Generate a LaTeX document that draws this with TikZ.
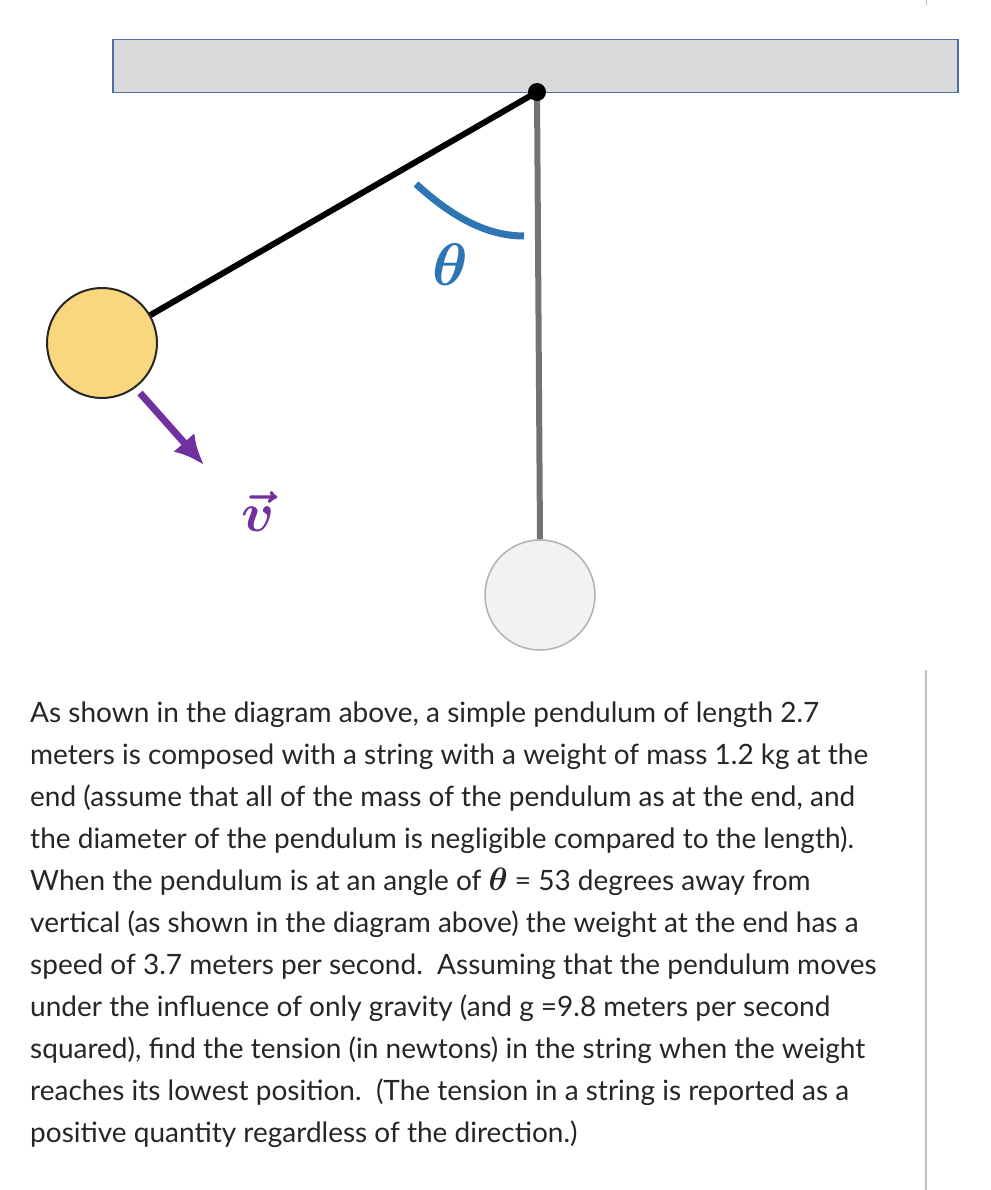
\documentclass[tikz,border=0pt]{standalone}
\usetikzlibrary{arrows.meta}
\usepackage{fontspec}
\setmainfont{Lato}
\usepackage{amsmath,bm,graphicx}
\begin{document}
\begin{tikzpicture}[x=1pt,y=-1pt,
  txt/.style={anchor=base west,inner sep=0pt,font=\fontsize{28}{32}\selectfont,text=black!85}]
\useasboundingbox (0,0) rectangle (990,1190);
\definecolor{ceil}{HTML}{D9D9D9}
\definecolor{ceilb}{HTML}{4A6FA5}
\definecolor{bl}{HTML}{2E75B6}
\definecolor{pu}{HTML}{7030A0}
\definecolor{yel}{HTML}{F9D77E}
\node[draw=ceilb,fill=ceil,line width=1.5,minimum width=845,minimum height=53,inner sep=0,anchor=north west] (ceiling) at (112,39) {};
\coordinate (pivot) at (537,92);
\node[circle,draw=gray!60,fill=gray!10,line width=1.5,minimum size=110,inner sep=0] (rest) at (540,595) {};
\node[circle,draw=black!85,fill=yel,line width=2,minimum size=110,inner sep=0] (bob) at (102,343) {};
\draw[gray!90!black,line width=6] (pivot) -- (rest.north);
\draw[black,line width=6] (pivot) -- (bob);
\node[circle,fill=black,minimum size=18,inner sep=0] (dot) at (pivot) {};
\draw[bl,line width=7] (416,184) .. controls (450,215) and (485,236) .. (524,236);
\node[text=bl,inner sep=0] (th) at (450,265) {\scalebox{6}{$\bm{\theta}$}};
\coordinate (va) at (140,393);
\coordinate (vb) at (204,465);
\draw[pu,line width=7,-{Latex[length=30,width=28]}] (va) -- (vb);
\node[text=pu,inner sep=0] (v) at (258,512) {\scalebox{5.5}{$\bm{\vec{v}}$}};
\draw[gray!50,line width=1.5] (926,670) -- (926,1190);
\draw[gray!50,line width=1] (926,0) -- (926,5);
\node[txt] (l1) at (30,722) {As shown in the diagram above, a simple pendulum of length 2.7};
\node[txt] (l2) at (30,764) {meters is composed with a string with a weight of mass 1.2 kg at the};
\node[txt] (l3) at (30,806) {end (assume that all of the mass of the pendulum as at the end, and};
\node[txt] (l4) at (30,848) {the diameter of the pendulum is negligible compared to the length).};
\node[txt] (l5) at (30,890) {When the pendulum is at an angle of \scalebox{1.3}{$\bm{\theta}$} = 53 degrees away from};
\node[txt] (l6) at (30,932) {vertical (as shown in the diagram above) the weight at the end has a};
\node[txt] (l7) at (30,974) {speed of 3.7 meters per second.\ \ Assuming that the pendulum moves};
\node[txt] (l8) at (30,1016) {under the influence of only gravity (and g =9.8 meters per second};
\node[txt] (l9) at (30,1058) {squared), find the tension (in newtons) in the string when the weight};
\node[txt] (l10) at (30,1100) {reaches its lowest position.\ \ (The tension in a string is reported as a};
\node[txt] (l11) at (30,1142) {positive quantity regardless of the direction.)};
\end{tikzpicture}
\end{document}
